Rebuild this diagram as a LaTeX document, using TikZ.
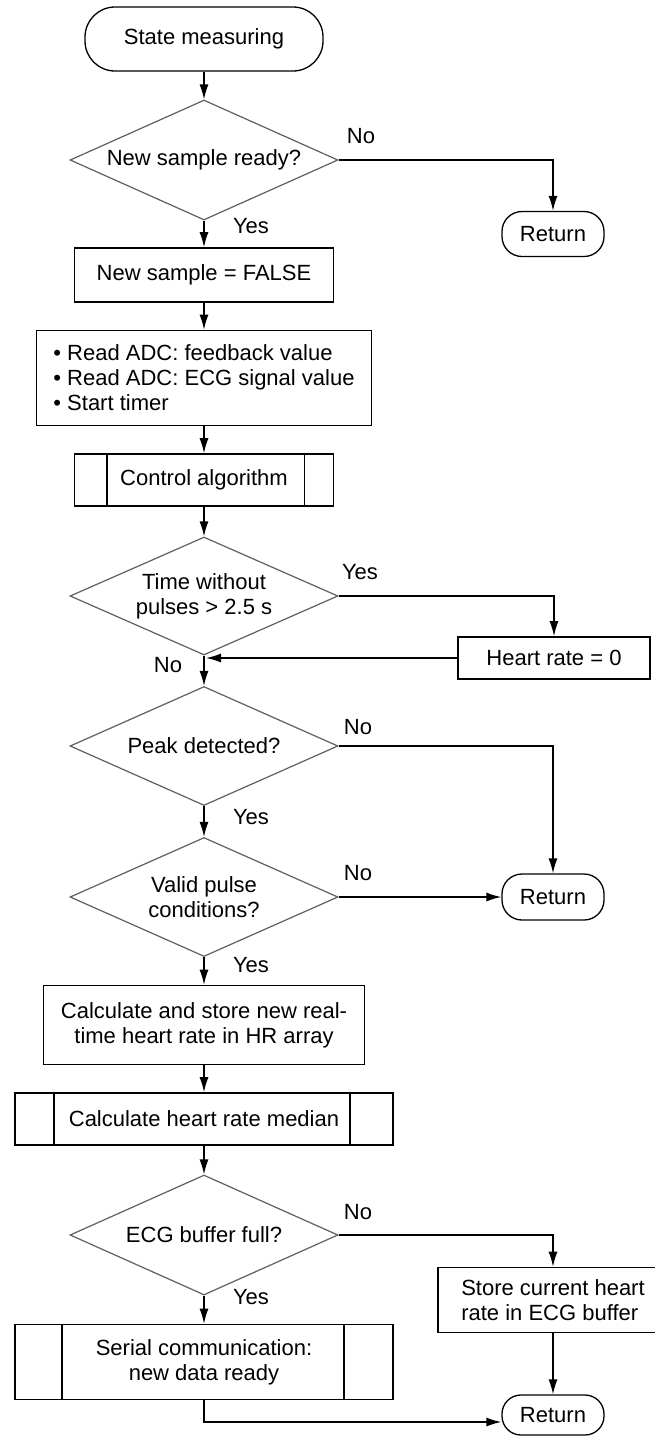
\documentclass[tikz,border=0pt]{standalone}
\usepackage{fontspec}
\setmainfont{Liberation Sans}
\usetikzlibrary{shapes.geometric,arrows.meta}
\definecolor{dgray}{RGB}{95,95,95}
\begin{document}
\begin{tikzpicture}[x=1pt,y=-1pt,
  every node/.style={font=\fontsize{22}{25}\selectfont, inner sep=0pt},
  box/.style={draw=black, line width=1.6pt, rectangle, align=center},
  term/.style={draw=black, line width=1.3pt, rectangle, align=center},
  dec/.style={draw=dgray, line width=1.2pt, diamond, aspect=2.23, minimum width=268pt, minimum height=120pt, align=center},
  lbl/.style={font=\fontsize{22}{25}\selectfont},
  arr/.style={line width=1.4pt, -{Latex[length=15pt,width=9pt]}},
  ln/.style={line width=1.4pt}
]
\useasboundingbox (0,0) rectangle (654,1436);
\fill[white] (0,0) rectangle (654,1436);

% nodes
\node[term, rounded corners=30pt, minimum width=238pt, minimum height=64pt] (sm) at (204,39) {State measuring};
\node[dec] (d1) at (204,160) {New sample ready?};
\node[term, rounded corners=20pt, minimum width=102pt, minimum height=45pt] (r1) at (553,234) {Return};
\node[box, minimum width=259pt, minimum height=54pt] (b1) at (204,275) {New sample = FALSE};
\node[box, minimum width=335pt, minimum height=95pt, align=left] (b2) at (204,378) {• Read ADC: feedback value\\• Read ADC: ECG signal value\\• Start timer};
\node[box, minimum width=259pt, minimum height=52pt] (ca) at (204,480) {Control algorithm};
\node[dec, minimum height=118pt] (d2) at (204,596) {Time without\\pulses > 2.5 s};
\node[box, minimum width=192pt, minimum height=42pt] (hr) at (554,658) {Heart rate = 0};
\node[dec, minimum height=119pt] (d3) at (204,746) {Peak detected?};
\node[dec, minimum height=119pt] (d4) at (204,897) {Valid pulse\\conditions?};
\node[term, rounded corners=20pt, minimum width=102pt, minimum height=46pt] (r2) at (553,897) {Return};
\node[box, minimum width=321pt, minimum height=79pt] (b3) at (204,1025) {Calculate and store new real-\\time heart rate in HR array};
\node[box, minimum width=378pt, minimum height=52pt] (md) at (204,1119) {Calculate heart rate median};
\node[dec] (d5) at (204,1235) {ECG buffer full?};
\node[box, minimum width=230pt, minimum height=65pt, align=left] (st) at (553,1300) {Store current heart\\rate in ECG buffer};
\node[box, minimum width=378pt, minimum height=75pt] (se) at (204,1362) {Serial communication:\\new data ready};
\node[term, rounded corners=19pt, minimum width=102pt, minimum height=40pt] (r3) at (553,1415) {Return};

% subroutine inner lines
\draw[line width=1.6pt] ([xshift=33pt]ca.north west) -- ([xshift=33pt]ca.south west);
\draw[line width=1.6pt] ([xshift=-30pt]ca.north east) -- ([xshift=-30pt]ca.south east);
\draw[line width=1.6pt] ([xshift=40pt]md.north west) -- ([xshift=40pt]md.south west);
\draw[line width=1.6pt] ([xshift=-44pt]md.north east) -- ([xshift=-44pt]md.south east);
\draw[line width=1.6pt] ([xshift=48pt]se.north west) -- ([xshift=48pt]se.south west);
\draw[line width=1.6pt] ([xshift=-50pt]se.north east) -- ([xshift=-50pt]se.south east);

% connectors
\draw[arr] (sm.south) -- (d1.north);
\draw[arr] (d1.east) -| (r1.north);
\draw[arr] (d1.south) -- (b1.north);
\draw[arr] (b1.south) -- (b2.north);
\draw[arr] (b2.south) -- (ca.north);
\draw[arr] (ca.south) -- (d2.north);
\draw[arr] (d2.east) -| (hr.north);
\coordinate (j) at (hr.west -| d2.south);
\draw[arr] (hr.west) -- ([xshift=2pt]j);
\draw[arr] (d2.south) -- (d3.north);
\draw[arr] (d3.east) -| (r2.north);
\draw[arr] (d3.south) -- (d4.north);
\draw[arr] (d4.east) -- (r2.west);
\draw[arr] (d4.south) -- (b3.north);
\draw[arr] (b3.south) -- (md.north);
\draw[arr] (md.south) -- (d5.north);
\draw[arr] (d5.east) -| (st.north);
\draw[arr] (d5.south) -- (se.north);
\draw[arr] (st.south) -- (r3.north);
\coordinate (sb) at (se.south |- 0,1422);
\draw[arr] (se.south) -- (sb) -- (sb -| r3.west);

% labels
\node[lbl] (l1) at (361,136) {No};
\node[lbl] (l2) at (251,226) {Yes};
\node[lbl] (l3) at (360,572) {Yes};
\node[lbl] (l4) at (168,665) {No};
\node[lbl] (l5) at (358,727) {No};
\node[lbl] (l6) at (251,817) {Yes};
\node[lbl] (l7) at (358,873) {No};
\node[lbl] (l8) at (251,965) {Yes};
\node[lbl] (l9) at (358,1212) {No};
\node[lbl] (l10) at (251,1297) {Yes};
\end{tikzpicture}
\end{document}
